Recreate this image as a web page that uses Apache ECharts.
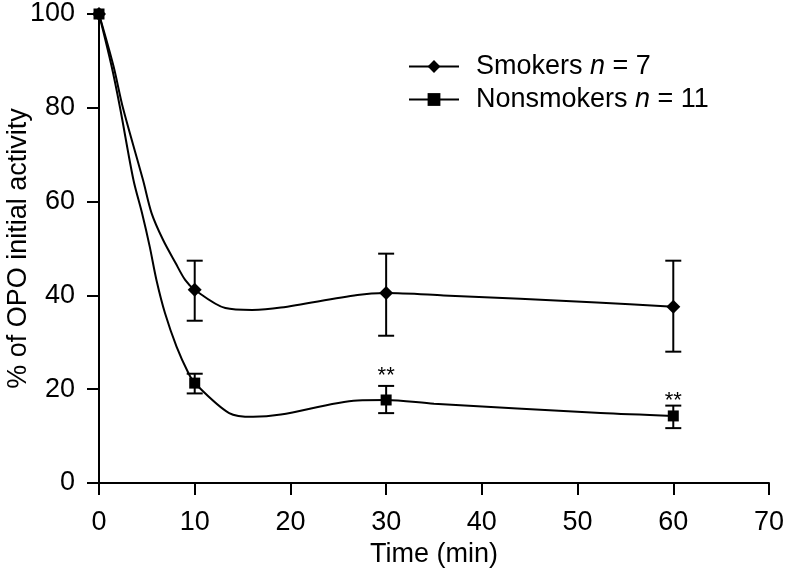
<!DOCTYPE html>
<html>
<head>
<meta charset="utf-8">
<script src="https://cdn.jsdelivr.net/npm/echarts@6/dist/echarts.min.js"></script>
<style>html,body{margin:0;padding:0;background:#fff;}#c{width:787px;height:571px;}</style>
</head>
<body>
<div id="c"></div>
<script>
// ---- Data ----
const xTicks = [0, 10, 20, 30, 40, 50, 60, 70];
const yTicks = [0, 20, 40, 60, 80, 100];

const measuredTime = [0, 10, 30, 60];
const smokersMean = [100, 41.2, 40.5, 37.6];
const smokersHigh = [null, 47.4, 48.9, 47.4];
const smokersLow  = [null, 34.6, 31.4, 28.0];
const nonsmokersMean = [100, 21.3, 17.7, 14.3];
const nonsmokersHigh = [null, 23.3, 20.7, 16.5];
const nonsmokersLow  = [null, 19.1, 14.9, 11.7];

// intermediate points of the fitted curves
const smokersCurveX = [1.5, 2.5, 4.6, 5.5, 6.7, 8.0, 9.0, 13.2, 16.0, 19.0, 27.0, 36.0, 52.0];
const smokersCurveY = [89, 80, 64.6, 57.5, 51.8, 46.9, 43.3, 37.3, 36.9, 37.4, 40.1, 40.0, 38.5];
const nonsmokersCurveX = [1.3, 2.2, 3.6, 4.5, 5.3, 6.0, 6.9, 8.1, 9.35, 13.6, 16.1, 19.0, 27.0, 35.0, 52.4];
const nonsmokersCurveY = [89, 80, 64.6, 57.5, 50.4, 43.3, 36.2, 29.1, 23.4, 14.9, 14.1, 14.6, 17.6, 16.9, 14.9];

// significance markers (text centre positions)
const sigTime = [30, 60];
const sigY = [23.9, 18.6];
const sigText = ['**', '**'];

const FONT = 'Liberation Sans';
const FS = 27;

function buildLine(curveX, curveY, mean) {
  const pts = [];
  measuredTime.forEach((t, i) => pts.push({ value: [t, mean[i]], measured: true }));
  curveX.forEach((t, i) => pts.push({ value: [t, curveY[i]] }));
  pts.sort((a, b) => a.value[0] - b.value[0]);
  return pts.map(p => p.measured ? { value: p.value } : { value: p.value, symbol: 'none' });
}
function buildErr(high, low) {
  const d = [];
  measuredTime.forEach((t, i) => { if (high[i] != null) d.push([t, low[i], high[i]]); });
  return d;
}
function errRender(params, api) {
  const x = api.value(0);
  const lo = api.coord([x, api.value(1)]);
  const hi = api.coord([x, api.value(2)]);
  const w = 8;
  const st = { stroke: '#000', lineWidth: 2 };
  return { type: 'group', children: [
    { type: 'line', shape: { x1: lo[0], y1: lo[1], x2: hi[0], y2: hi[1] }, style: st },
    { type: 'line', shape: { x1: hi[0] - w, y1: hi[1], x2: hi[0] + w, y2: hi[1] }, style: st },
    { type: 'line', shape: { x1: lo[0] - w, y1: lo[1], x2: lo[0] + w, y2: lo[1] }, style: st }
  ]};
}

const chart = echarts.init(document.getElementById('c'), null, { renderer: 'canvas' });
chart.setOption({
  animation: false,
  backgroundColor: '#fff',
  textStyle: { fontFamily: FONT, color: '#000' },
  grid: { left: 99, right: 18, top: 14, bottom: 88, containLabel: false, outerBoundsMode: 'none' },
  legend: {
    orient: 'vertical',
    left: 408, top: 53, padding: 0,
    itemWidth: 50, itemHeight: 16, itemGap: 6,
    data: ['Smokers', 'Nonsmokers'],
    formatter: function (name) {
      return name === 'Smokers' ? 'Smokers {i|n} = 7' : 'Nonsmokers {i|n} = 11';
    },
    textStyle: {
      fontFamily: FONT, fontSize: FS, color: '#000', padding: [0, 0, 0, 12],
      rich: { i: { fontFamily: FONT, fontSize: FS, fontStyle: 'italic', color: '#000' } }
    }
  },
  xAxis: {
    type: 'value', min: 0, max: 70, interval: 10,
    name: 'Time (min)', nameLocation: 'middle', nameGap: 58,
    nameTextStyle: { fontFamily: FONT, fontSize: FS, color: '#000' },
    axisLine: { show: true, onZero: false, lineStyle: { color: '#000', width: 2 } },
    axisTick: { show: true, inside: false, length: 12, lineStyle: { color: '#000', width: 2 } },
    axisLabel: { fontFamily: FONT, fontSize: FS, color: '#000', margin: 26,
      formatter: v => xTicks.includes(v) ? String(v) : '' },
    splitLine: { show: false }
  },
  yAxis: {
    type: 'value', min: 0, max: 100, interval: 20,
    name: '% of OPO initial activity', nameLocation: 'middle', nameGap: 67, nameRotate: 90,
    nameMoveOverlap: false,
    nameTextStyle: { fontFamily: FONT, fontSize: FS, color: '#000' },
    axisLine: { show: true, lineStyle: { color: '#000', width: 2 } },
    axisTick: { show: true, inside: false, length: 12, lineStyle: { color: '#000', width: 2 } },
    axisLabel: { fontFamily: FONT, fontSize: FS, color: '#000', margin: 24,
      formatter: v => yTicks.includes(v) ? String(v) : '' },
    splitLine: { show: false }
  },
  series: [
    {
      name: 'Smokers', type: 'line', smooth: 0.3,
      symbol: 'diamond', symbolSize: 14, showSymbol: true,
      lineStyle: { color: '#000', width: 2 }, itemStyle: { color: '#000' },
      data: buildLine(smokersCurveX, smokersCurveY, smokersMean), z: 3
    },
    {
      name: 'Nonsmokers', type: 'line', smooth: 0.3,
      symbol: 'rect', symbolSize: 11, showSymbol: true,
      lineStyle: { color: '#000', width: 2 }, itemStyle: { color: '#000' },
      data: buildLine(nonsmokersCurveX, nonsmokersCurveY, nonsmokersMean), z: 4
    },
    { type: 'custom', renderItem: errRender, data: buildErr(smokersHigh, smokersLow), z: 5, silent: true },
    { type: 'custom', renderItem: errRender, data: buildErr(nonsmokersHigh, nonsmokersLow), z: 5, silent: true },
    {
      type: 'custom', z: 6, silent: true,
      data: sigTime.map((t, i) => [t, sigY[i], i]),
      renderItem: function (params, api) {
        const p = api.coord([api.value(0), api.value(1)]);
        return { type: 'text', style: { text: sigText[api.value(2)], x: p[0], y: p[1] + 5,
          align: 'center', verticalAlign: 'middle', font: '22px "' + FONT + '"', fill: '#000' } };
      }
    }
  ]
});
</script>
</body>
</html>
